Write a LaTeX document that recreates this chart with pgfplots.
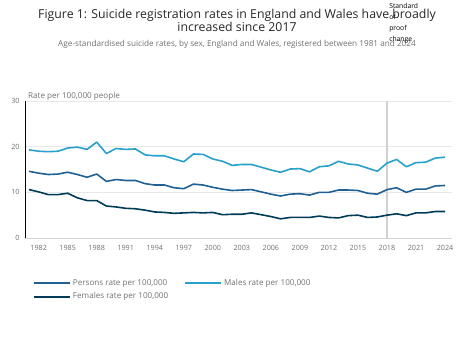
\documentclass[border=0pt]{standalone}
\usepackage{pgfplots}
\pgfplotsset{compat=1.18}
\usepackage{fontspec}
\setmainfont{Open Sans}
\definecolor{persons}{HTML}{206095}
\definecolor{males}{HTML}{27A0CC}
\definecolor{females}{HTML}{003C57}
\definecolor{txtgray}{HTML}{707070}
\definecolor{gridgray}{HTML}{E8E8E8}
\pgfplotstableread{
year persons males females
1981 14.6 19.3 10.6
1982 14.2 19.0 10.1
1983 13.9 18.9 9.5
1984 14.0 19.0 9.5
1985 14.4 19.7 9.8
1986 13.9 19.9 8.8
1987 13.3 19.4 8.2
1988 14.0 21.0 8.2
1989 12.4 18.5 7.0
1990 12.8 19.6 6.8
1991 12.6 19.4 6.5
1992 12.6 19.5 6.4
1993 11.9 18.2 6.1
1994 11.6 18.0 5.7
1995 11.6 18.0 5.6
1996 11.0 17.3 5.4
1997 10.8 16.7 5.5
1998 11.8 18.4 5.6
1999 11.6 18.3 5.5
2000 11.1 17.3 5.6
2001 10.7 16.8 5.1
2002 10.4 15.9 5.2
2003 10.5 16.1 5.2
2004 10.6 16.1 5.5
2005 10.1 15.5 5.1
2006 9.6 14.9 4.7
2007 9.2 14.4 4.2
2008 9.6 15.1 4.5
2009 9.7 15.2 4.5
2010 9.4 14.5 4.5
2011 10.0 15.6 4.8
2012 10.0 15.8 4.5
2013 10.5 16.8 4.4
2014 10.5 16.2 4.9
2015 10.4 16.0 5.0
2016 9.8 15.3 4.5
2017 9.6 14.6 4.6
2018 10.6 16.4 5.0
2019 11.0 17.2 5.3
2020 10.0 15.6 4.9
2021 10.7 16.5 5.5
2022 10.7 16.6 5.5
2023 11.4 17.5 5.8
2024 11.5 17.7 5.8
}\datatable
\begin{document}
\begin{tikzpicture}
\useasboundingbox (-25.1pt,-101pt) rectangle (448.9pt,238pt);
\begin{axis}[
  at={(0pt,0pt)}, anchor=origin,
  scale only axis, width=426.7pt, height=137pt,
  xmin=1980.6, xmax=2024.7, ymin=0, ymax=30,
  axis lines=none,
  ytick={0,10,20,30},
  xtick={1982,1985,...,2024},
  x tick label style={/pgf/number format/1000 sep={}},
  ymajorgrids, grid style={gridgray, line width=0.8pt},
  tick style={draw=none},
  /pgf/number format/assume math mode=true,
  tick label style={font=\fontsize{7.2}{8}\selectfont, text=txtgray},
  yticklabel style={anchor=east, xshift=-2pt},
  xticklabel style={anchor=north, yshift=-4pt},
  hide axis=false,
  legend style={at={(0.011,-0.27)}, anchor=north west, draw=none, fill=none,
    font=\fontsize{8.1}{9.5}\selectfont, text=txtgray,
    legend columns=2, /tikz/every even column/.append style={column sep=14pt},
    row sep=2pt},
  legend cell align=left,
  legend image code/.code={\draw[#1, line width=2pt] (0pt,0pt) -- (36pt,0pt);},
  clip=false,
]
\draw[black!18, line width=1.8pt] (axis cs:2018,0) -- (axis cs:2018,30);
\draw[gridgray!80!gray, line width=0.8pt] (axis cs:1980.6,0) -- (axis cs:2024.7,0);
\addplot[persons, line width=1.6pt, line join=round] table[x=year,y=persons] {\datatable};
\addlegendentry{Persons rate per 100,000}
\addplot[males, line width=1.6pt, line join=round] table[x=year,y=males] {\datatable};
\addlegendentry{Males rate per 100,000}
\addplot[females, line width=1.6pt, line join=round] table[x=year,y=females] {\datatable};
\addlegendentry{Females rate per 100,000}
\end{axis}
% title etc (px -> X=px-25.1, Y=238-py)
\node[align=center, font=\fontsize{12.3}{13.6}\selectfont, text=black!85] at (211.9pt,217.5pt) {Figure 1: Suicide registration rates in England and Wales have broadly\\increased since 2017};
\node[font=\fontsize{8.2}{9}\selectfont, text=txtgray] at (211.9pt,194pt) {Age-standardised suicide rates, by sex, England and Wales, registered between 1981 and 2024};
\node[anchor=west, font=\fontsize{8.1}{9}\selectfont, text=txtgray] at (-0.5pt,142pt) {Rate per 100,000 people};
\node[anchor=north west, align=left, font=\fontsize{6.8}{10}\selectfont, text=black, inner sep=0pt] at (364pt,235pt) {Standard\\[1pt]of\\[1pt]proof\\[1pt]change};
\end{tikzpicture}
\end{document}
